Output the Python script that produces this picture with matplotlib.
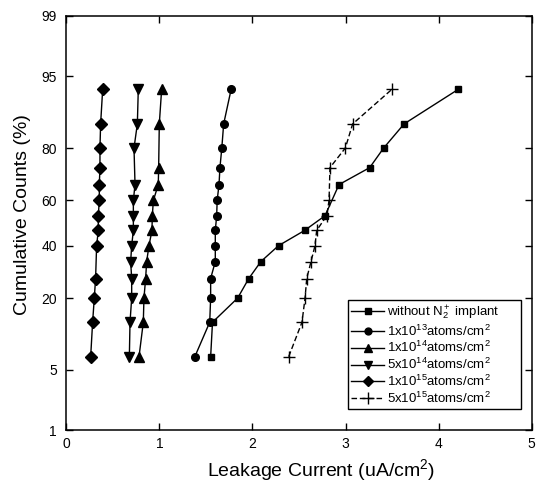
import math

import matplotlib
matplotlib.use("Agg")
import matplotlib.pyplot as plt
import numpy as np

plt.rcParams["font.family"] = ["Liberation Sans", "DejaVu Sans"]
plt.rcParams["mathtext.fontset"] = "custom"
plt.rcParams["mathtext.rm"] = "Liberation Sans"
plt.rcParams["mathtext.it"] = "Liberation Sans:italic"
plt.rcParams["mathtext.default"] = "regular"

# cumulative counts (%) for each series, leakage current (uA/cm2)
y_none = [6.7, 13.3, 20.0, 26.7, 33.3, 40.0, 46.7, 53.3, 66.7, 73.3, 80.0, 86.7, 93.3]
x_none = [1.55, 1.57, 1.84, 1.96, 2.09, 2.28, 2.56, 2.78, 2.93, 3.26, 3.41, 3.63, 4.21]

y_1e13 = [6.7, 13.3, 20.0, 26.7, 33.3, 40.0, 46.7, 53.3, 60.0, 66.7, 73.3, 80.0, 86.7, 93.3]
x_1e13 = [1.38, 1.54, 1.55, 1.55, 1.60, 1.60, 1.60, 1.615, 1.62, 1.64, 1.65, 1.67, 1.69, 1.77]

y_1e14 = [6.7, 13.3, 20.0, 26.7, 33.3, 40.0, 46.7, 53.3, 60.0, 66.7, 73.3, 86.7, 93.3]
x_1e14 = [0.78, 0.826, 0.833, 0.851, 0.862, 0.887, 0.919, 0.923, 0.934, 0.987, 0.991, 0.998, 1.023]

y_5e14 = [6.7, 13.3, 20.0, 26.7, 33.3, 40.0, 46.7, 53.3, 60.0, 66.7, 80.0, 86.7, 93.3]
x_5e14 = [0.676, 0.683, 0.701, 0.701, 0.69, 0.701, 0.719, 0.719, 0.719, 0.737, 0.726, 0.762, 0.772]

y_1e15 = [6.7, 13.3, 20.0, 26.7, 40.0, 46.7, 53.3, 60.0, 66.7, 73.3, 80.0, 86.7, 93.3]
x_1e15 = [0.26, 0.281, 0.299, 0.313, 0.324, 0.342, 0.342, 0.353, 0.353, 0.36, 0.36, 0.367, 0.389]

y_5e15 = [6.7, 13.3, 20.0, 26.7, 33.3, 40.0, 46.7, 53.3, 60.0, 73.3, 80.0, 86.7, 93.3]
x_5e15 = [2.389, 2.532, 2.565, 2.583, 2.629, 2.672, 2.69, 2.798, 2.823, 2.833, 2.998, 3.077, 3.497]

y_ticks = [1, 5, 20, 40, 60, 80, 95, 99]
x_ticks = [0, 1, 2, 3, 4, 5]

# normal probability scale built from erf (no scipy here)
_z = np.linspace(-5, 5, 4001)
_p = 0.5 * (1 + np.vectorize(math.erf)(_z / math.sqrt(2))) * 100


def _fwd(y):
    return np.interp(y, _p, _z)


def _inv(z):
    return np.interp(z, _z, _p)


fig = plt.figure(figsize=(5.37, 4.93), dpi=100)
ax = fig.add_axes([0.1238, 0.1268, 0.866, 0.8414])
ax.set_yscale("function", functions=(_fwd, _inv))

kw = dict(color="black", lw=1.0, mfc="black", mec="black")
ax.plot(x_none, y_none, marker="s", ms=5, label="without N$_2^+$ implant", **kw)
ax.plot(x_1e13, y_1e13, marker="o", ms=5.5, label="1x10$^{13}$atoms/cm$^2$", **kw)
ax.plot(x_1e14, y_1e14, marker="^", ms=7, label="1x10$^{14}$atoms/cm$^2$", **kw)
ax.plot(x_5e14, y_5e14, marker="v", ms=7, label="5x10$^{14}$atoms/cm$^2$", **kw)
ax.plot(x_1e15, y_1e15, marker="D", ms=6, label="1x10$^{15}$atoms/cm$^2$", **kw)
ax.plot(x_5e15, y_5e15, marker="+", ms=9, mew=1.0, ls=(0, (4, 2)),
        label="5x10$^{15}$atoms/cm$^2$", color="black", lw=1.0)

ax.set_xlim(0, 5)
ax.set_ylim(1, 99)
ax.set_xticks(x_ticks)
ax.set_xticklabels([str(t) for t in x_ticks])
ax.set_yticks(y_ticks)
ax.set_yticklabels([str(t) for t in y_ticks])
ax.yaxis.set_minor_locator(matplotlib.ticker.NullLocator())
ax.tick_params(direction="in", top=True, right=True, length=5, width=1,
               labelsize=10, colors="black")
ax.tick_params(axis="x", pad=5)
ax.tick_params(axis="y", pad=7)
for s in ax.spines.values():
    s.set_linewidth(1.1)

ax.set_xlabel("Leakage Current (uA/cm$^2$)", fontsize=14)
ax.xaxis.set_label_coords(0.548, -0.095)
ax.xaxis.label.set_va("center")
ax.set_ylabel("Cumulative Counts (%)", fontsize=14)
ax.yaxis.set_label_coords(-0.095, 0.52)
ax.yaxis.label.set_va("center")

# legend box spans roughly x 348..521 px, top at y 300 px in the reference
leg = ax.legend(loc="upper left", bbox_to_anchor=(0.6054, 0.0, 0.372, 0.3146),
                mode="expand", borderaxespad=0,
                fontsize=9.5, fancybox=False, framealpha=1, edgecolor="black",
                handlelength=2.5, handletextpad=0.2, labelspacing=0.12,
                borderpad=0.25, markerscale=0.9)
leg.get_frame().set_linewidth(1.0)

fig.savefig("out.png", dpi=100)
